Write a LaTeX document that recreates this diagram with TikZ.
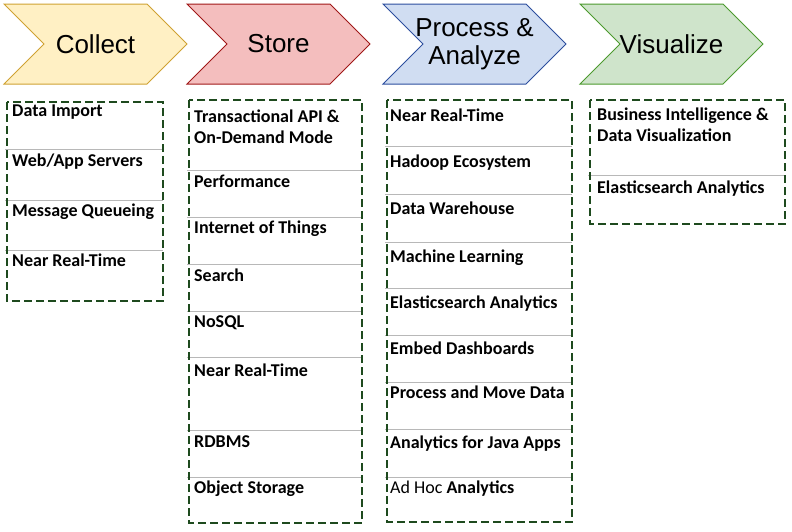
\documentclass[tikz,border=0pt]{standalone}
\usepackage{fontspec}
\setmainfont{Carlito}
\newfontfamily\headfont{Liberation Sans}
\usetikzlibrary{positioning}
\definecolor{collectfill}{HTML}{FFF0C4}
\definecolor{collectline}{HTML}{CFA232}
\definecolor{storefill}{HTML}{F4BEBE}
\definecolor{storeline}{HTML}{A01818}
\definecolor{processfill}{HTML}{D0DDF2}
\definecolor{processline}{HTML}{2C4E9E}
\definecolor{visualfill}{HTML}{CFE4CB}
\definecolor{visualline}{HTML}{4C9A2E}
\definecolor{boxgreen}{HTML}{1E4A1E}
\tikzset{%
	headtext/.style = {font=\headfont\fontsize{26}{28}\selectfont, align=center, inner sep=0pt},
	listbox/.style  = {draw=boxgreen, dash pattern=on 8pt off 4pt, line width=2.2pt},
	rowline/.style  = {draw=black!28, line width=0.9pt},
	item/.style     = {anchor=base west, inner sep=0pt, font=\bfseries\fontsize{18}{20.5}\selectfont, align=left},
}

\begin{document}
\begin{tikzpicture}[x=1pt,y=-1pt]
		\useasboundingbox (0,0) rectangle (792,531);
		
		% stage arrows
		\foreach \x/\col/\nm/\txt in {4/collect/collect/Collect, 187/store/store/Store, 383/process/process/{Process \&\\Analyze}, 580/visual/visualize/Visualize}
		\draw[fill=\col fill, draw=\col line, line width=1pt] (\x,4) -- ++(143,0) -- ++(40,40) -- ++(-40,40) -- ++(-143,0) -- ++(40,-40) -- cycle node[headtext] (\nm) at (\x+91.5,44) {\txt};
		
		% collect
		\foreach \y in {149,200,250} \draw[rowline] (5,\y) -- (163,\y);
		\draw[listbox] (7,102) rectangle (163,301);
		\foreach \y/\txt [count=\i] in {116/Data Import, 166/{Web/App Servers}, 216/Message Queueing, 266/Near Real-Time}
		\node[item] (collect-\i) at (12,\y) {\txt};
		
		% store (two-line cells sit on their last baseline)
		\foreach \y in {170,217,264,311,357,430,477} \draw[rowline] (187,\y) -- (362,\y);
		\draw[listbox] (189,100) rectangle (362,523);
		\foreach \y/\txt [count=\i] in {143/{Transactional API \&\\On-Demand Mode}, 187/Performance, 233/Internet of Things, 281/Search, 327/NoSQL, 376/Near Real-Time, 447/RDBMS, 493/Object Storage}
		\node[item] (store-\i) at (194,\y) {\txt};
		
		% process & analyze
		\foreach \y in {146,194,242,288,335,382,429,477} \draw[rowline] (385,\y) -- (572,\y);
		\draw[listbox] (387,100) rectangle (572,522);
		\foreach \y/\txt [count=\i] in {121/Near Real-Time, 167/Hadoop Ecosystem, 214/Data Warehouse, 262/Machine Learning, 308/Elasticsearch Analytics, 354/Embed Dashboards, 398/Process and Move Data, 448/Analytics for Java Apps, 493/{{\mdseries Ad Hoc} Analytics}}
		\node[item] (process-\i) at (390,\y) {\txt};
		
		% visualize
		\draw[rowline] (588,175) -- (785,175);
		\draw[listbox] (590,100) rectangle (785,224);
		\foreach \y/\txt [count=\i] in {141/{Business Intelligence \&\\Data Visualization}, 193/Elasticsearch Analytics}
		\node[item] (visualize-\i) at (597,\y) {\txt};
\end{tikzpicture}
\end{document}
